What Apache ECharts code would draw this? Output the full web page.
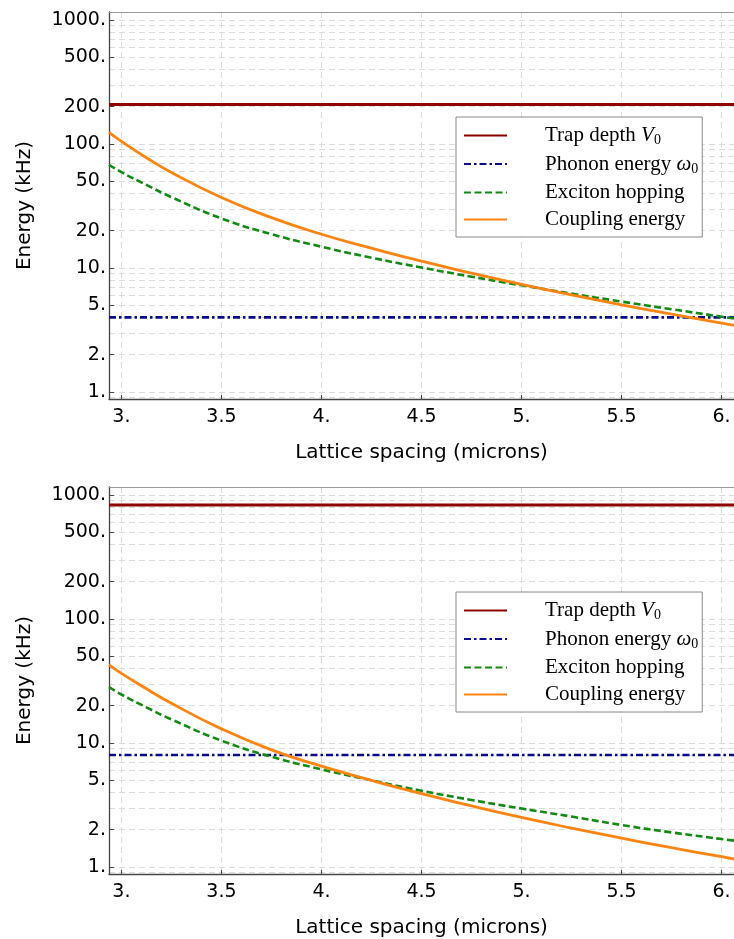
<!DOCTYPE html>
<html>
<head>
<meta charset="utf-8">
<script src="https://cdn.jsdelivr.net/npm/echarts@6/dist/echarts.min.js"></script>
<style>
html,body{margin:0;padding:0;background:#fff;}
#chart{width:734px;height:939px;}
</style>
</head>
<body>
<div id="chart"></div>
<script>
// ---- data ----
const spacing = [2.938, 3.0, 3.125, 3.25, 3.5, 3.75, 4.0, 4.25, 4.5, 4.75, 5.0, 5.25, 5.5, 5.75, 6.0, 6.062];
// upper panel
const topCoupling = [124, 105, 77.5, 59, 37, 25.5, 18.7, 14.45, 11.34, 9.1, 7.39, 6.08, 5.05, 4.24, 3.59, 3.44];
const topHopping  = [68, 59.3, 46.8, 37.3, 25.1, 18.75, 14.85, 12.1, 10.08, 8.51, 7.25, 6.21, 5.36, 4.65, 4.05, 3.92];
// lower panel
const bottomCoupling = [42.6, 36.4, 27.4, 20.9, 13.0, 8.8, 6.5, 4.99, 3.9, 3.11, 2.51, 2.06, 1.71, 1.43, 1.21, 1.16];
const bottomHopping  = [28.3, 24.6, 19.4, 15.5, 10.45, 7.75, 6.13, 5.0, 4.12, 3.47, 2.96, 2.55, 2.18, 1.9, 1.68, 1.63];
// constant levels (upper, lower)
const trapDepth = [208, 832];
const phononEnergy = [4.0, 8.0];

const seriesNames = ['Trap depth V0', 'Phonon energy \u03c90', 'Exciton hopping', 'Coupling energy'];
const xTicks = [3, 3.5, 4, 4.5, 5, 5.5, 6];
const yTicks = [1, 2, 5, 10, 20, 50, 100, 200, 500, 1000];
const yGridValues = [0.9, 1, 2, 3, 4, 5, 6, 7, 8, 9, 10, 20, 30, 40, 50, 60, 70, 80, 90,
  100, 200, 300, 400, 500, 600, 700, 800, 900, 1000];
const xRange = [2.938, 6.062];
const yRange = [0.878, 1160];

// ---- chart ----
const SANS = 'DejaVu Sans';
const SERIF = 'Liberation Serif';
const fmt = v => (Number.isInteger(v) ? v + '.' : String(v));
const colors = { trap: '#8c0000', phonon: '#0c0c88', hop: '#138a13', coup: '#ff8411' };

const panels = [
  { top: 12, coupling: topCoupling, hopping: topHopping },
  { top: 487, coupling: bottomCoupling, hopping: bottomHopping }
];

const grid = [], xAxis = [], yAxis = [], series = [], legend = [];

panels.forEach((p, g) => {
  grid.push({ left: 109, top: p.top, width: 625, height: 387 });
  xAxis.push({
    type: 'value', gridIndex: g, min: xRange[0], max: xRange[1], position: 'bottom',
    name: 'Lattice spacing (microns)', nameLocation: 'middle', nameGap: 44,
    nameTextStyle: { fontFamily: SANS, fontSize: 20, color: '#000' },
    axisLine: { show: true, onZero: false, lineStyle: { color: '#444', width: 1.3 } },
    axisTick: { show: true, inside: true, length: 4, customValues: xTicks, lineStyle: { color: '#444' } },
    axisLabel: { customValues: xTicks, formatter: fmt, margin: 9, fontFamily: SANS, fontSize: 19, color: '#000' },
    splitLine: { show: true, lineStyle: { color: '#dcdcdc', type: [6, 4], width: 1 } }
  });
  xAxis.push({
    type: 'value', gridIndex: g, min: xRange[0], max: xRange[1], position: 'top',
    axisLine: { show: true, onZero: false, lineStyle: { color: '#999', width: 1 } },
    axisTick: { show: false }, axisLabel: { show: false }, splitLine: { show: false }
  });
  yAxis.push({
    type: 'log', logBase: 10, gridIndex: g, min: yRange[0], max: yRange[1], position: 'left',
    name: 'Energy (kHz)', nameLocation: 'middle', nameGap: 74,
    nameTextStyle: { fontFamily: SANS, fontSize: 20, color: '#000' },
    axisLine: { show: true, onZero: false, lineStyle: { color: '#444', width: 1.3 } },
    axisTick: { show: true, inside: true, length: 5, customValues: yTicks, lineStyle: { color: '#444' } },
    axisLabel: { customValues: yTicks, formatter: fmt, margin: 3, fontFamily: SANS, fontSize: 19, color: '#000' },
    splitLine: { show: false }
  });
  yAxis.push({
    type: 'log', logBase: 10, gridIndex: g, min: yRange[0], max: yRange[1], position: 'right',
    axisLine: { show: false }, axisTick: { show: false, customValues: yGridValues },
    axisLabel: { show: false },
    splitLine: { show: true, lineStyle: { color: '#dcdcdc', type: [6, 4], width: 1 } }
  });

  const xi = g * 2, yi = g * 2;
  const common = { type: 'line', xAxisIndex: xi, yAxisIndex: yi, symbol: 'none', silent: true, animation: false };
  series.push(Object.assign({}, common, {
    name: seriesNames[0],
    data: [[xRange[0], trapDepth[g]], [xRange[1], trapDepth[g]]],
    lineStyle: { color: colors.trap, width: 3 }, itemStyle: { color: colors.trap }, z: 3
  }));
  series.push(Object.assign({}, common, {
    name: seriesNames[1],
    data: [[xRange[0], phononEnergy[g]], [xRange[1], phononEnergy[g]]],
    lineStyle: { color: colors.phonon, width: 2.6, type: [7, 3, 2.5, 3] }, itemStyle: { color: colors.phonon }, z: 4
  }));
  series.push(Object.assign({}, common, {
    name: seriesNames[2],
    data: spacing.map((x, i) => [x, p.hopping[i]]), smooth: 0.5,
    lineStyle: { color: colors.hop, width: 2.6, type: [7, 3.5] }, itemStyle: { color: colors.hop }, z: 5
  }));
  series.push(Object.assign({}, common, {
    name: seriesNames[3],
    data: spacing.map((x, i) => [x, p.coupling[i]]), smooth: 0.5,
    lineStyle: { color: colors.coup, width: 2.8 }, itemStyle: { color: colors.coup }, z: 6
  }));

  legend.push({
    left: 456, top: p.top + 105, orient: 'vertical', data: seriesNames,
    itemWidth: 43, itemHeight: 14, itemGap: 6, padding: [8, 4, 7, 7],
    backgroundColor: '#fff', borderColor: '#8a8a8a', borderWidth: 1, borderRadius: 0,
    selectedMode: false, z: 10,
    itemStyle: { color: 'transparent', borderWidth: 0, opacity: 0 },
    formatter: n => {
      if (n === seriesNames[0]) return '{g| }{t|Trap depth }{i|V}{s|0}';
      if (n === seriesNames[1]) return '{g| }{t|Phonon energy }{i|\u03c9}{s|0}';
      return '{g| }{t|' + n + '}';
    },
    textStyle: {
      fontFamily: SERIF, fontSize: 21, color: '#000',
      rich: {
        g: { width: 33, fontSize: 21, lineHeight: 24 },
        t: { fontFamily: SERIF, fontSize: 21, lineHeight: 24, color: '#000' },
        i: { fontFamily: SERIF, fontSize: 21, lineHeight: 24, fontStyle: 'italic', color: '#000' },
        s: { fontFamily: SERIF, fontSize: 14, lineHeight: 14, verticalAlign: 'bottom', color: '#000' }
      }
    }
  });
});

const chart = echarts.init(document.getElementById('chart'), null, { renderer: 'canvas' });
chart.setOption({
  animation: false,
  backgroundColor: '#fff',
  grid, xAxis, yAxis, series, legend
});
</script>
</body>
</html>
